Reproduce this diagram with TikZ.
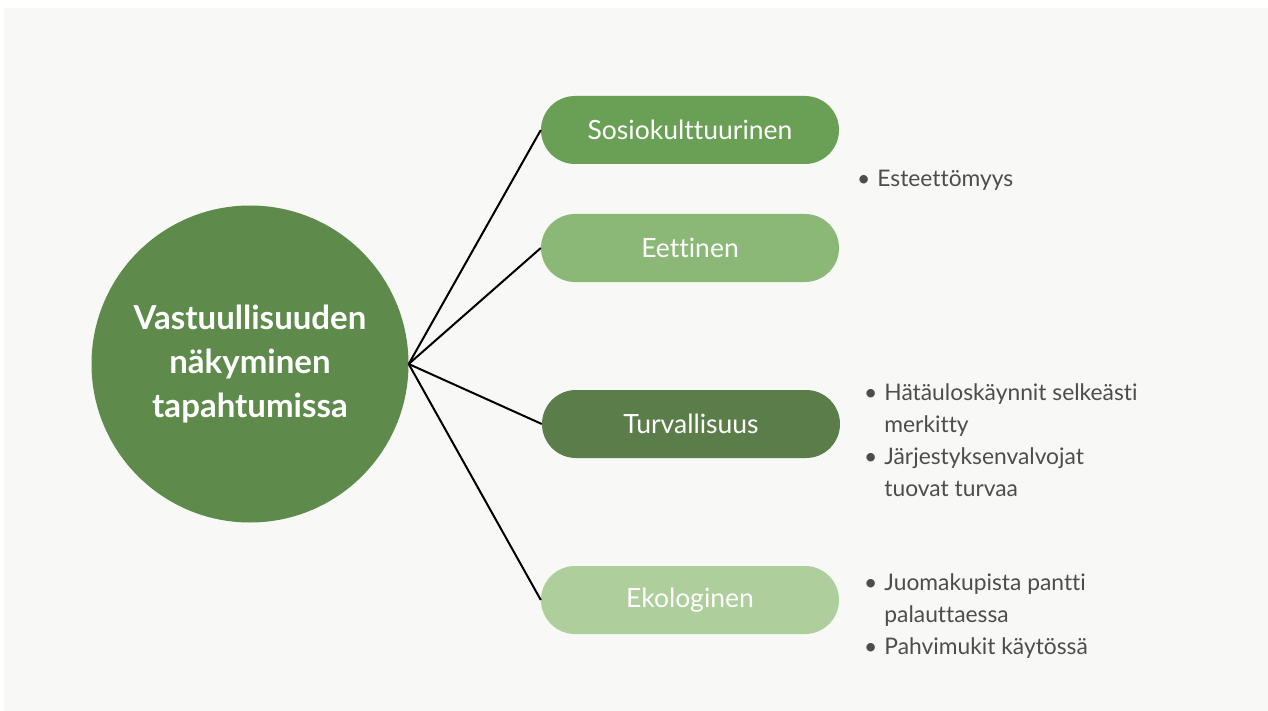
\documentclass[tikz,border=0pt]{standalone}
\usepackage{fontspec}
\setmainfont{Lato}[Ligatures=NoCommon]
\usepackage{tikz}
\usetikzlibrary{positioning}

\definecolor{bgcol}{HTML}{F8F8F6}
\definecolor{hubcol}{HTML}{5E8A4B}
\definecolor{sociocol}{HTML}{6A9F56}
\definecolor{ethiccol}{HTML}{8BB877}
\definecolor{safecol}{HTML}{5B7D4A}
\definecolor{ecocol}{HTML}{AECF9C}
\definecolor{listcol}{HTML}{4D4D4D}

\tikzset{
  pill/.style={rectangle, rounded corners=34pt, minimum width=298pt,
    minimum height=68pt, inner sep=0pt, text=white,
    font=\fontsize{26.5}{32}\selectfont},
  hubnode/.style={circle, fill=hubcol, minimum size=317pt, inner sep=0pt,
    text=white, align=center, font=\fontsize{33}{44}\bfseries\selectfont},
  bullets/.style={anchor=base west, inner sep=0pt, text=listcol,
    font=\fontsize{22.8}{32}\selectfont},
  spoke/.style={line width=2pt, black}
}

\newcommand{\itemlist}[1]{\begin{tabular}[t]{@{}l@{\hspace{7pt}}l@{}}#1\end{tabular}}

\begin{document}
\begin{tikzpicture}[x=1pt,y=-1pt]
     \useasboundingbox (0,0) rectangle (1268,711);
     \fill [bgcol] (4,8) rectangle (1268,711);
     % centre
     \node [hubnode] (hub) at (250,364) {Vastuullisuuden\\näkyminen\\tapahtumissa};
     % branches
     \node [pill, fill=sociocol] (socio) at (690,130) {Sosiokulttuurinen};
     \node [pill, fill=ethiccol] (ethic) at (690,248) {Eettinen};
     \node [pill, fill=safecol] (safe) at (691,424) {Turvallisuus};
     \node [pill, fill=ecocol] (eco) at (690,600) {Ekologinen};
     % lists
     \node [bullets] (sociolist) at (857,187) {\itemlist{• & Esteettömyys}};
     \node [bullets] (safelist) at (864,400) {\itemlist{• & Hätäuloskäynnit selkeästi\\ & merkitty\\• & Järjestyksenvalvojat\\ & tuovat turvaa}};
     \node [bullets] (ecolist) at (864,590) {\itemlist{• & Juomakupista pantti\\ & palauttaessa\\• & Pahvimukit käytössä}};
     % spokes
     \draw [spoke] (hub.east) -- (socio.west);
     \draw [spoke] (hub.east) -- (ethic.west);
     \draw [spoke] (hub.east) -- (safe.west);
     \draw [spoke] (hub.east) -- (eco.west);
\end{tikzpicture}
\end{document}
